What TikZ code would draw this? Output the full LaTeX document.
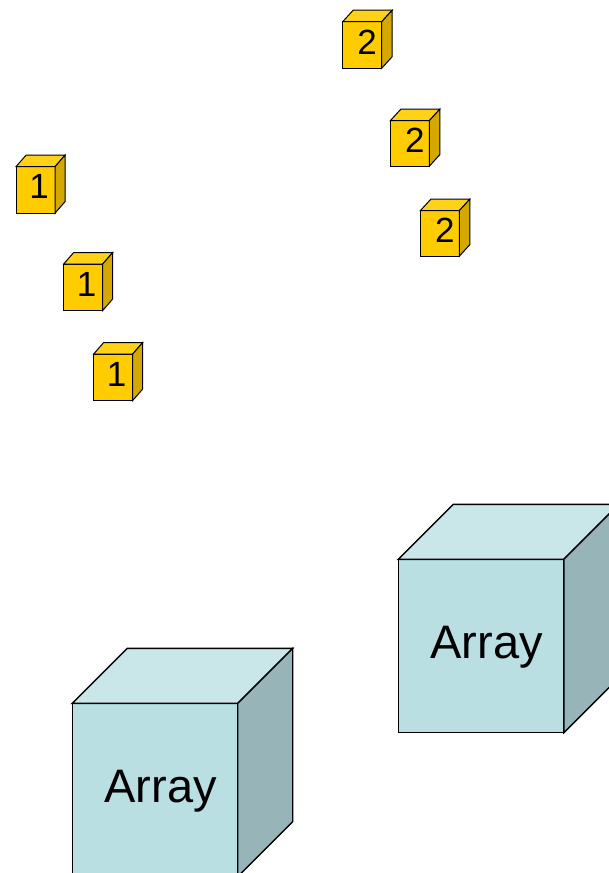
\documentclass[tikz,border=0pt]{standalone}
\usepackage{fontspec}
\setmainfont{Liberation Sans}
\definecolor{sfront}{HTML}{FFCC00}
\definecolor{stop}{HTML}{FFD21A}
\definecolor{sside}{HTML}{D4A800}
\definecolor{bfront}{HTML}{B9DFE3}
\definecolor{btop}{HTML}{C9E6E9}
\definecolor{bside}{HTML}{97B4B8}
\tikzset{
  cubeline/.style={draw=black, line join=miter},
  smalllbl/.style={font=\fontsize{35}{35}\selectfont, inner sep=0pt},
  biglbl/.style={font=\fontsize{47}{47}\selectfont, inner sep=0pt, anchor=base},
}
% #1 name, #2 x, #3 y, #4 w, #5 h, #6 depth x, #7 depth y, #8 colour prefix (s/b), #9 line width
\newcommand{\drawbox}[9]{%
  \filldraw[cubeline, line width=#9, fill=#8front] (#2,#3) rectangle ++(#4,#5);
  \filldraw[cubeline, line width=#9, fill=#8top] (#2,#3) -- ++(#6,-#7) -- ++(#4,0) -- ++(-#6,#7) -- cycle;
  \filldraw[cubeline, line width=#9, fill=#8side] (#2+#4,#3) -- ++(#6,-#7) -- ++(0,#5) -- ++(-#6,#7) -- cycle;
  \coordinate (#1) at (#2+#4/2,#3+#5/2);
}
\begin{document}
\begin{tikzpicture}[x=1pt,y=-1pt]
\useasboundingbox (0,0) rectangle (609,873);
\begin{scope}
\clip (0,0) rectangle (609,873);
% small cubes "2"
\drawbox{c2a}{342.7}{21.7}{39}{46.5}{10.5}{11.5}{s}{1pt}
\drawbox{c2b}{390.3}{120.7}{39}{45.5}{10.5}{11.5}{s}{1pt}
\drawbox{c2c}{420.3}{210.7}{39}{45.5}{10.5}{11.5}{s}{1pt}
% small cubes "1"
\drawbox{c1a}{16}{166.7}{39}{46.5}{10}{11.5}{s}{1pt}
\drawbox{c1b}{63.7}{264}{39}{46.5}{10}{11.5}{s}{1pt}
\drawbox{c1c}{93.7}{354}{39}{46.5}{10}{11.5}{s}{1pt}
% big cubes
\drawbox{ba}{398.3}{559.3}{165.6}{173.4}{55}{55}{b}{1.4pt}
\drawbox{bb}{72.3}{703.3}{165.4}{173.4}{55}{55}{b}{1.4pt}
\end{scope}
\node[smalllbl] (t2a) at ([xshift=5pt,yshift=3pt]c2a) {2};
\node[smalllbl] (t2b) at ([xshift=5pt,yshift=3pt]c2b) {2};
\node[smalllbl] (t2c) at ([xshift=5pt,yshift=3pt]c2c) {2};
\node[smalllbl] (t1a) at ([xshift=3.5pt,yshift=3pt]c1a) {1};
\node[smalllbl] (t1b) at ([xshift=3.5pt,yshift=3pt]c1b) {1};
\node[smalllbl] (t1c) at ([xshift=3.5pt,yshift=3pt]c1c) {1};
\node[biglbl] (ta) at ([xshift=5.5pt,yshift=-12pt]ba) {Array};
\node[biglbl] (tb) at ([xshift=5.5pt,yshift=-12pt]bb) {Array};
\end{tikzpicture}
\end{document}
